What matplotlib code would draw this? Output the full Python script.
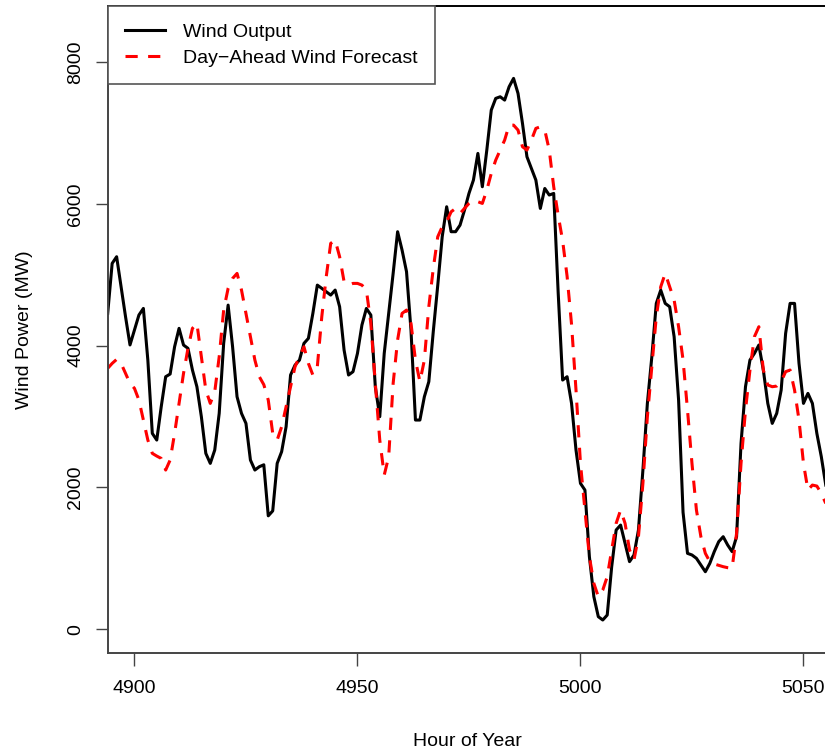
import matplotlib
matplotlib.use("Agg")
import matplotlib.pyplot as plt
import numpy as np

hours = list(range(4894, 5056))

wind_output = [
    4455, 5160, 5254, 4830, 4408, 4010, 4220, 4432, 4525, 3797,
    2763, 2669, 3139, 3562, 3600, 3985, 4244, 4009, 3962, 3656,
    3421, 2998, 2481, 2340, 2528, 3045, 4032, 4572, 3985, 3280,
    3045, 2904, 2387, 2246, 2293, 2320, 1600, 1670, 2340, 2505,
    2857, 3586, 3726, 3797, 4032, 4103, 4455, 4854, 4808, 4760,
    4713, 4784, 4549, 3938, 3586, 3633, 3891, 4291, 4525, 4432,
    3421, 2998, 3891, 4455, 5019, 5607, 5348, 5043, 4220, 2951,
    2951, 3280, 3492, 4200, 4850, 5536, 5959, 5607, 5607, 5700,
    5912, 6147, 6335, 6711, 6241, 6758, 7322, 7487, 7510, 7463,
    7651, 7769, 7557, 7134, 6664, 6500, 6335, 5935, 6217, 6124,
    6147, 4750, 3515, 3562, 3186, 2528, 2058, 1964, 1024, 460,
    178, 131, 201, 883, 1400, 1470, 1212, 954, 1048, 1400,
    2246, 3186, 3844, 4596, 4784, 4596, 4549, 4126, 3233, 1650,
    1071, 1048, 1001, 906, 812, 930, 1095, 1236, 1306, 1189,
    1095, 1306, 2622, 3421, 3797, 3891, 4009, 3656, 3186, 2904,
    3045, 3374, 4173, 4596, 4596, 3750, 3186, 3327, 3186, 2763,
    2434, 2034,
]

day_ahead_forecast = [
    3680, 3750, 3806, 3750, 3609, 3468, 3398, 3233, 2951, 2669,
    2481, 2443, 2410, 2246, 2387, 2763, 3186, 3609, 3962, 4244,
    4314, 3844, 3374, 3186, 3350, 3844, 4502, 4808, 4948, 5019,
    4784, 4455, 4126, 3797, 3562, 3450, 3233, 2763, 2669, 2857,
    3139, 3421, 3703, 3844, 3985, 3750, 3586, 3703, 4408, 4972,
    5442, 5489, 5254, 4902, 4854, 4878, 4878, 4854, 4784, 4314,
    3468, 2669, 2175, 2434, 3468, 4079, 4455, 4502, 4314, 3797,
    3492, 3797, 4549, 5090, 5536, 5677, 5747, 5888, 5935, 5865,
    5935, 6006, 6053, 6030, 6006, 6194, 6429, 6617, 6758, 6899,
    7110, 7110, 7040, 6805, 6758, 6899, 7064, 7087, 7040, 6758,
    6241, 5840, 5480, 4980, 4300, 3374, 2340, 1682, 1024, 648,
    460, 554, 742, 1118, 1494, 1682, 1494, 1118, 977, 1306,
    2058, 2998, 3703, 4408, 4831, 5019, 4831, 4643, 4267, 3800,
    3092, 2340, 1682, 1306, 1071, 954, 921, 902, 883, 869,
    860, 1353, 2340, 3092, 3656, 4126, 4267, 3656, 3445, 3421,
    3430, 3492, 3633, 3656, 3374, 2951, 2340, 1964, 2034, 2020,
    1917, 1776,
]

x_ticks = [4900, 4950, 5000, 5050]
y_ticks = [0, 2000, 4000, 6000, 8000]

plt.rcParams['font.family'] = ['Liberation Sans', 'DejaVu Sans']

W, H = 825, 752
fig = plt.figure(figsize=(W / 100, H / 100), dpi=100)
left_px, right_px, top_px, bottom_px = 107.7, 828.0, 6.0, 652.7
ax = fig.add_axes([left_px / W, 1 - bottom_px / H,
                   (right_px - left_px) / W, (bottom_px - top_px) / H])

ax.plot(hours, wind_output, color='black', lw=2.2, label='Wind Output',
        solid_joinstyle='round')
ax.plot(hours, day_ahead_forecast, color='#ff0000', lw=2.2,
        dashes=(4.0, 3.4), label='Day\u2212Ahead Wind Forecast')

ax.set_xlim(4894.0, 5055.5)
ax.set_ylim(-330, 8790)
ax.set_xticks(x_ticks)
ax.set_yticks(y_ticks)
ax.set_xticklabels([str(v) for v in x_ticks])
ax.set_yticklabels([str(v) for v in y_ticks], rotation=90, va='center')

ax.tick_params(axis='both', length=9, width=1.0, color='#444444',
               labelsize=14)
ax.tick_params(axis='x', pad=11)
ax.tick_params(axis='y', pad=8)

for s in ['left', 'bottom']:
    ax.spines[s].set_color('#444444')
    ax.spines[s].set_linewidth(1.4)
ax.spines['top'].set_color('black')
ax.spines['top'].set_linewidth(1.4)
ax.spines['right'].set_visible(False)

ax.set_xlabel('Hour of Year', fontsize=14, va='top')
ax.xaxis.set_label_coords(0.5, -0.124)
ax.set_ylabel('Wind Power (MW)', fontsize=14)
ax.yaxis.set_label_coords(-0.104, 0.5)

leg = ax.legend(loc='upper left', bbox_to_anchor=(0, 1), borderaxespad=0,
                fontsize=14, frameon=True, fancybox=False, framealpha=1,
                edgecolor='#555555', handlelength=2.06, handletextpad=0.93,
                borderpad=0.9, labelspacing=0.42)
leg.get_frame().set_linewidth(1.2)

fig.savefig('out.png', dpi=100)
